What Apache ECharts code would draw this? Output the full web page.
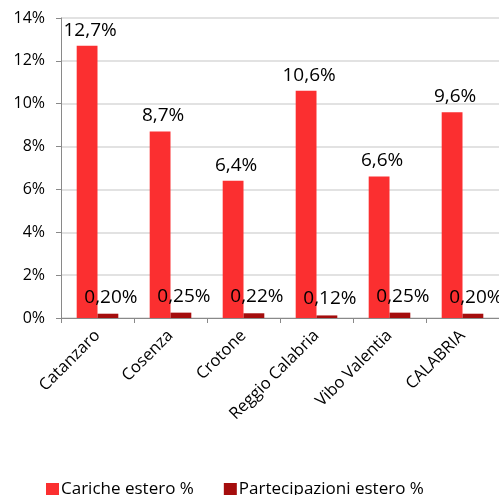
<!DOCTYPE html>
<html><head><meta charset="utf-8">
<script src="https://cdn.jsdelivr.net/npm/echarts@6/dist/echarts.min.js"></script>
<style>html,body{margin:0;padding:0;background:#fff}#c{width:499px;height:495px}</style>
</head><body><div id="c"></div>
<script>
const categories = ['Catanzaro', 'Cosenza', 'Crotone', 'Reggio Calabria', 'Vibo Valentia', 'CALABRIA'];
const cariche = [12.7, 8.7, 6.4, 10.6, 6.6, 9.6];
const partecipazioni = [0.20, 0.25, 0.22, 0.12, 0.25, 0.20];
const seriesNames = ['Cariche estero %', 'Partecipazioni estero %'];
const yTicks = [0, 2, 4, 6, 8, 10, 12, 14];

const FONT = '"Open Sans", "Noto Sans", sans-serif';
const chart = echarts.init(document.getElementById('c'), null, {renderer: 'canvas'});
const fmt = (v, d) => v.toFixed(d).replace('.', ',') + '%';
chart.setOption({
  animation: false,
  textStyle: {fontFamily: FONT},
  grid: {left: 61, right: 0, top: 18, bottom: 177, containLabel: false},
  legend: {
    data: seriesNames, left: 41, top: 476, itemWidth: 13, itemHeight: 13, itemGap: 30,
    icon: 'rect',
    textStyle: {fontFamily: FONT, fontSize: 17, color: '#000', padding: [0,0,0,-3]}
  },
  xAxis: {
    type: 'category', data: categories,
    axisLine: {lineStyle: {color: '#898989', width: 1}},
    axisTick: {show: true, length: 5, lineStyle: {color: '#898989'}},
    axisLabel: {rotate: 45, interval: 0, fontFamily: FONT, fontSize: 16.5, color: '#000', margin: 15}
  },
  yAxis: {
    type: 'value', min: yTicks[0], max: yTicks[yTicks.length - 1], interval: 2,
    axisLine: {show: true, lineStyle: {color: '#898989', width: 1}},
    axisTick: {show: true, length: 5, lineStyle: {color: '#898989'}},
    splitLine: {lineStyle: {color: '#d9d9d9', width: 1.5}},
    axisLabel: {formatter: v => v + '%', fontFamily: FONT, fontSize: 16, color: '#000', margin: 16}
  },
  series: [
    {
      name: seriesNames[0], type: 'bar', data: cariche, barGap: '0%', barCategoryGap: '43%',
      itemStyle: {color: '#FB2F30'},
      label: {show: true, position: 'top', distance: 6, offset: [3, 0], fontSize: 19, fontFamily: FONT, color: '#000',
        formatter: p => fmt(p.value, 1)}
    },
    {
      name: seriesNames[1], type: 'bar', data: partecipazioni,
      itemStyle: {color: '#A50D0D'},
      label: {show: true, position: 'top', distance: 7, offset: [3, 0], fontSize: 19, fontFamily: FONT, color: '#000',
        formatter: p => fmt(p.value, 2)}
    }
  ]
});
</script></body></html>
